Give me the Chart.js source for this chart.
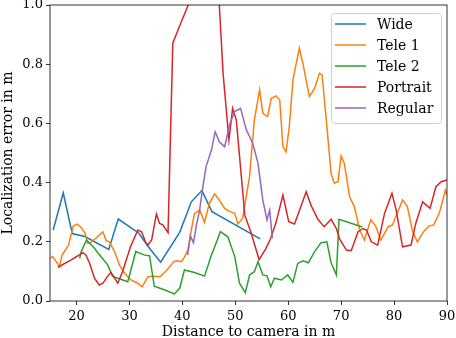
<!DOCTYPE html>
<html>
<head>
<meta charset="utf-8">
<script src="https://cdn.jsdelivr.net/npm/chart.js@4.4.0/dist/chart.umd.min.js"></script>
<style>
  html, body { margin: 0; padding: 0; background: #fff; }
  #wrap { width: 456px; height: 338px; }
</style>
</head>
<body>
<div id="wrap"><canvas id="myChart" width="456" height="338"></canvas></div>
<script>
// categories / series
const seriesNames = ['Wide', 'Tele 1', 'Tele 2', 'Portrait', 'Regular'];
const seriesColors = ['#1f77b4', '#ff7f0e', '#2ca02c', '#d62728', '#9467bd'];

const wideX = [15.6, 17.5, 19.2, 21.6, 26.1, 27.9, 31.8, 33.5, 35.9, 39.5, 41.7, 43.7, 45.6, 54.7];
const wideY = [0.24, 0.365, 0.228, 0.218, 0.174, 0.277, 0.229, 0.185, 0.131, 0.232, 0.335, 0.373, 0.302, 0.21];

const tele1X = [15.0, 15.5, 16.8, 17.3, 18.5, 19.4, 20.1, 20.8, 21.6, 22.1, 22.8, 25.0, 25.6, 26.2, 27.2, 28.1, 29.1, 30.3, 31.6, 32.4,
  33.5, 34.5, 35.8, 37.0, 38.4, 39.0, 39.8, 40.4, 41.1, 41.7, 42.3, 43.3, 44.2, 45.1, 46.1, 47.0, 48.0, 49.0, 49.9, 50.5,
  51.4, 52.7, 53.6, 54.6, 55.2, 56.1, 56.8, 57.7, 58.4, 59.0, 59.6, 60.2, 60.9, 62.1, 62.8, 64.0, 65.0, 65.9, 66.4, 67.2,
  68.1, 68.7, 69.4, 70.0, 70.6, 71.6, 72.5, 73.5, 74.4, 75.6, 76.5, 77.5, 78.9, 79.7, 81.6, 82.5, 83.5, 84.4, 85.6, 86.6,
  87.5, 88.6, 89.7, 90.0];
const tele1Y = [0.144, 0.15, 0.117, 0.155, 0.189, 0.253, 0.26, 0.25, 0.23, 0.195, 0.198, 0.234, 0.204, 0.2, 0.167, 0.122, 0.094, 0.071, 0.06, 0.048,
  0.082, 0.084, 0.082, 0.103, 0.133, 0.136, 0.133, 0.148, 0.175, 0.24, 0.296, 0.307, 0.266, 0.33, 0.362, 0.341, 0.313, 0.302, 0.296, 0.26,
  0.28, 0.42, 0.611, 0.713, 0.634, 0.623, 0.685, 0.693, 0.679, 0.521, 0.504, 0.589, 0.747, 0.854, 0.80, 0.69, 0.719, 0.769, 0.764, 0.611,
  0.431, 0.398, 0.403, 0.49, 0.465, 0.352, 0.319, 0.24, 0.206, 0.274, 0.254, 0.206, 0.251, 0.257, 0.341, 0.32, 0.235, 0.2, 0.235, 0.253,
  0.257, 0.3, 0.375, 0.358];

const tele2X = [20.6, 20.9, 21.9, 23.4, 24.1, 25.9, 26.8, 27.8, 29.7, 31.2, 32.9, 33.8, 34.7, 36.7, 38.5, 39.5, 40.4, 42.3, 44.2, 45.4,
  47.2, 48.6, 49.9, 50.8, 51.9, 52.7, 53.6, 54.3, 55.2, 56.0, 56.7, 57.4, 58.7, 59.9, 60.9, 61.8, 62.8, 63.8, 65.0, 66.2,
  67.3, 68.1, 69.1, 69.6, 74.0];
const tele2Y = [0.144, 0.167, 0.206, 0.178, 0.161, 0.122, 0.084, 0.077, 0.065, 0.167, 0.155, 0.153, 0.05, 0.037, 0.024, 0.043, 0.105, 0.096, 0.084, 0.15,
  0.234, 0.217, 0.15, 0.06, 0.028, 0.088, 0.099, 0.133, 0.088, 0.085, 0.048, 0.077, 0.071, 0.088, 0.063, 0.127, 0.136, 0.129, 0.167, 0.197,
  0.2, 0.13, 0.088, 0.276, 0.25];

const portraitX = [16.5, 19.0, 21.2, 21.8, 22.5, 23.4, 24.3, 25.0, 25.9, 26.5, 27.2, 27.8, 28.7, 30.2, 31.6, 32.3, 33.1, 33.5, 34.2, 35.1,
  35.7, 36.3, 37.3, 38.2, 39.5, 42.5, 46.8, 47.7, 48.8, 49.5, 50.2, 51.8, 53.0, 54.5, 55.8, 56.7, 57.7, 59.0, 60.1, 61.2,
  63.4, 64.3, 65.6, 66.8, 68.1, 69.1, 69.7, 71.0, 71.9, 73.2, 74.1, 74.8, 75.7, 76.9, 78.2, 79.6, 80.4, 81.6, 83.2, 84.1,
  85.4, 86.8, 87.9, 88.9, 90.0];
const portraitY = [0.114, 0.139, 0.163, 0.155, 0.127, 0.077, 0.054, 0.06, 0.084, 0.096, 0.077, 0.06, 0.099, 0.183, 0.24, 0.234, 0.197, 0.189, 0.206, 0.294,
  0.262, 0.257, 0.231, 0.871, 0.93, 1.06, 1.06, 0.769, 0.544, 0.651, 0.611, 0.29, 0.23, 0.14, 0.178, 0.212, 0.265, 0.358, 0.268, 0.26,
  0.369, 0.324, 0.276, 0.251, 0.276, 0.245, 0.21, 0.172, 0.17, 0.234, 0.245, 0.24, 0.2, 0.189, 0.296, 0.364, 0.307, 0.183, 0.189, 0.262,
  0.335, 0.313, 0.386, 0.403, 0.409];

const regularX = [41.0, 41.5, 42.1, 42.7, 43.2, 44.0, 44.5, 45.5, 46.2, 47.0, 48.0, 49.0, 49.9, 51.0, 52.1, 53.3, 54.3, 55.2, 56.0, 56.5, 57.0];
const regularY = [0.155, 0.22, 0.197, 0.26, 0.3, 0.4, 0.455, 0.51, 0.572, 0.538, 0.521, 0.6, 0.64, 0.651, 0.578, 0.533, 0.465, 0.341, 0.274, 0.307, 0.212];

// tick labels
const xTicks = [20, 30, 40, 50, 60, 70, 80, 90];
const yTicks = [0.0, 0.2, 0.4, 0.6, 0.8, 1.0];

const seriesX = [wideX, tele1X, tele2X, portraitX, regularX];
const seriesY = [wideY, tele1Y, tele2Y, portraitY, regularY];

const FONT = "'DejaVu Serif', serif";

function toPoints(xs, ys) {
    return xs.map((x, i) => ({ x: x, y: ys[i] }));
}

// frame on all four sides, like matplotlib spines
const frame = {
    id: 'frame',
    afterDatasetsDraw(chart) {
        const a = chart.chartArea, ctx = chart.ctx;
        ctx.save();
        ctx.strokeStyle = '#000';
        ctx.lineWidth = 0.8;
        ctx.strokeRect(a.left, a.top, a.right - a.left, a.bottom - a.top);
        ctx.restore();
    }
};

// legend in the upper right corner of the plot
const innerLegend = {
    id: 'innerLegend',
    afterDraw(chart) {
        const a = chart.chartArea, ctx = chart.ctx;
        const w = 110, h = 110;
        const x0 = a.right - 6 - w, y0 = a.top + 8;
        ctx.save();
        ctx.beginPath();
        ctx.roundRect(x0 + 0.5, y0 + 0.5, w, h, 3);
        ctx.fillStyle = 'rgba(255,255,255,0.8)';
        ctx.fill();
        ctx.strokeStyle = '#d0d0d0';
        ctx.lineWidth = 1;
        ctx.stroke();
        ctx.font = '14px ' + FONT;
        ctx.textBaseline = 'middle';
        ctx.fillStyle = '#000';
        chart.data.datasets.forEach((ds, i) => {
            const yy = y0 + 11 + i * 21;
            ctx.beginPath();
            ctx.moveTo(x0 + 4, yy);
            ctx.lineTo(x0 + 35, yy);
            ctx.strokeStyle = ds.borderColor;
            ctx.lineWidth = 1.5;
            ctx.stroke();
            ctx.fillText(ds.label, x0 + 46, yy + 1);
        });
        ctx.restore();
    }
};

const ctx = document.getElementById('myChart');
const myChart = new Chart(ctx, {
    type: 'line',
    data: {
        datasets: seriesNames.map((name, i) => ({
            label: name,
            data: toPoints(seriesX[i], seriesY[i]),
            borderColor: seriesColors[i],
            backgroundColor: seriesColors[i],
            borderWidth: 1.5,
            pointRadius: 0,
            tension: 0,
            fill: false,
            clip: 0,
            order: seriesNames.length - i
        }))
    },
    options: {
        responsive: false,
        animation: false,
        devicePixelRatio: 1,
        layout: { padding: { top: 5, right: 9, left: 0, bottom: 0 } },
        plugins: {
            legend: { display: false },
            tooltip: { enabled: false }
        },
        scales: {
            x: {
                type: 'linear',
                min: 15,
                max: 90,
                afterBuildTicks: (s) => { s.ticks = xTicks.map(v => ({ value: v })); },
                afterFit: (s) => { s.height = 37; s.paddingLeft = 0; s.paddingRight = 0; },
                ticks: {
                    font: { family: FONT, size: 13 },
                    color: '#000',
                    padding: 4,
                    maxRotation: 0,
                    autoSkip: false
                },
                grid: { drawOnChartArea: false, drawTicks: true, tickLength: 4, color: '#000', lineWidth: 0.8 },
                border: { display: false },
                title: {
                    display: true,
                    text: 'Distance to camera in m',
                    font: { family: FONT, size: 14, lineHeight: 0.8 },
                    color: '#000',
                    padding: { top: 0, bottom: 0 }
                }
            },
            y: {
                min: 0,
                max: 1,
                afterBuildTicks: (s) => { s.ticks = yTicks.map(v => ({ value: v })); },
                afterFit: (s) => { s.width = 50; s.paddingTop = 0; s.paddingBottom = 0; },
                ticks: {
                    font: { family: FONT, size: 13 },
                    color: '#000',
                    padding: 3,
                    callback: (v) => Number(v).toFixed(1)
                },
                grid: { drawOnChartArea: false, drawTicks: true, tickLength: 4, color: '#000', lineWidth: 0.8 },
                border: { display: false },
                title: {
                    display: true,
                    text: 'Localization error in m',
                    font: { family: FONT, size: 14 },
                    color: '#000',
                    padding: { top: 0, bottom: 0 }
                }
            }
        }
    },
    plugins: [frame, innerLegend]
});
</script>
</body>
</html>
